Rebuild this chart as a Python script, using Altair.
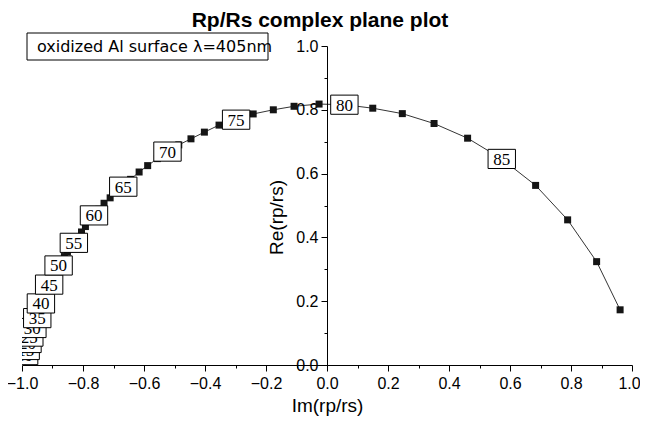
import altair as alt
import pandas as pd

# incidence angle (deg) for each plotted point
angles = list(range(0, 90))
# Im(rp/rs)
im_vals = [
    -1.000, -1.000, -0.999, -0.999, -0.998, -0.997, -0.996, -0.996, -0.995, -0.994,
    -0.993, -0.992, -0.991, -0.990, -0.989, -0.988, -0.987, -0.986, -0.985, -0.983,
    -0.982, -0.980, -0.979, -0.978, -0.977, -0.976, -0.974, -0.972, -0.970, -0.968,
    -0.966, -0.963, -0.960, -0.956, -0.953, -0.950, -0.949, -0.947, -0.944, -0.941,
    -0.938, -0.933, -0.928, -0.922, -0.917, -0.911, -0.905, -0.899, -0.893, -0.887,
    -0.880, -0.871, -0.861, -0.851, -0.841, -0.830, -0.818, -0.805, -0.792, -0.778,
    -0.764, -0.748, -0.731, -0.711, -0.690, -0.668, -0.644, -0.616, -0.588, -0.556,
    -0.523, -0.486, -0.446, -0.402, -0.354, -0.298, -0.242, -0.176, -0.108, -0.026,
    0.057, 0.150, 0.247, 0.351, 0.461, 0.573, 0.684, 0.789, 0.884, 0.961,
]
# Re(rp/rs)
re_vals = [
    0.000, 0.003, 0.006, 0.009, 0.012, 0.016, 0.019, 0.022, 0.025, 0.028,
    0.031, 0.034, 0.038, 0.041, 0.044, 0.047, 0.051, 0.055, 0.059, 0.064,
    0.069, 0.073, 0.077, 0.081, 0.085, 0.089, 0.094, 0.099, 0.104, 0.110,
    0.116, 0.122, 0.128, 0.134, 0.140, 0.147, 0.156, 0.165, 0.174, 0.183,
    0.193, 0.204, 0.216, 0.228, 0.240, 0.252, 0.264, 0.276, 0.288, 0.300,
    0.312, 0.326, 0.340, 0.354, 0.368, 0.383, 0.400, 0.417, 0.434, 0.451,
    0.469, 0.488, 0.507, 0.524, 0.541, 0.559, 0.582, 0.605, 0.625, 0.647,
    0.669, 0.690, 0.709, 0.730, 0.752, 0.769, 0.787, 0.800, 0.811, 0.818,
    0.816, 0.805, 0.788, 0.757, 0.711, 0.646, 0.563, 0.455, 0.324, 0.173,
]
label_angles = [5, 10, 15, 20, 25, 30, 35, 40, 45, 50, 55, 60, 65, 70, 75, 80, 85]
x_ticks = [-1.0, -0.9, -0.8, -0.7, -0.6, -0.5, -0.4, -0.3, -0.2, -0.1, 0.0,
           0.1, 0.2, 0.3, 0.4, 0.5, 0.6, 0.7, 0.8, 0.9, 1.0]
y_ticks = [0.0, 0.1, 0.2, 0.3, 0.4, 0.5, 0.6, 0.7, 0.8, 0.9, 1.0]
title_text = "Rp/Rs complex plane plot"
legend_text = "oxidized Al surface λ=405nm"

df = pd.DataFrame({"angle": angles, "im": im_vals, "re": re_vals})

W, H = 610, 319
SANS = "Liberation Sans"
WIDE = "DejaVu Sans"
SERIF = "Liberation Serif"
major = "abs(round(datum.value*10)) % 2 === 0"

x_enc = alt.X(
    "im:Q",
    scale=alt.Scale(domain=[-1, 1], nice=False, zero=False),
    axis=alt.Axis(
        values=x_ticks, format=".1f",
        labelExpr=f"{major} ? datum.label : ''",
        tickSize={"condition": {"test": major, "value": 6}, "value": 3},
        labelOffset={"condition": {"test": "datum.value > 0.99", "value": -3}, "value": 0},
        grid=False, domainColor="black", tickColor="black", labelColor="black",
        labelFont=SANS, labelFontSize=16, labelFlush=False, labelOverlap=False,
        labelPadding=4,
        title="Im(rp/rs)", titleFont=SANS, titleFontSize=19, titleFontWeight="normal",
        titleColor="black", titlePadding=5,
    ),
)
y_enc = alt.Y(
    "re:Q",
    scale=alt.Scale(domain=[0, 1], nice=False),
    axis=alt.Axis(
        values=y_ticks, format=".1f", orient="left", offset=-W / 2,
        labelExpr=f"{major} ? datum.label : ''",
        tickSize={"condition": {"test": major, "value": 6}, "value": 3},
        grid=False, domainColor="black", tickColor="black", labelColor="black",
        labelFont=SANS, labelFontSize=16, labelOverlap=False, labelPadding=3,
        title="Re(rp/rs)", titleFont=SANS, titleFontSize=19, titleFontWeight="normal",
        titleColor="black", titleX=-41, titleY=171,
    ),
)

base = alt.Chart(df).encode(x=x_enc, y=y_enc)
line = base.mark_line(color="black", strokeWidth=0.8, clip=True)
pts = base.mark_point(shape="square", filled=True, size=49, color="#151515",
                      opacity=1, clip=True)

box_path = "M-1,-0.7L1,-0.7L1,0.7L-1,0.7Z"
layers = [line, pts]
for a in label_angles:
    sub = df[df["angle"] == a]
    c = alt.Chart(sub).encode(x=x_enc, y=y_enc)
    layers.append(c.mark_point(shape=box_path, size=750, fill="white", stroke="black",
                               strokeWidth=1, opacity=1, fillOpacity=1, clip=True))
    layers.append(c.mark_text(font=SERIF, fontSize=17, color="black", align="center",
                              baseline="middle", dy=1, clip=True).encode(text="angle:N"))

leg_df = pd.DataFrame({"t": [legend_text], "title": [title_text]})
leg_box = alt.Chart(leg_df).mark_rect(fill="white", stroke="black", strokeWidth=1).encode(
    x=alt.value(5), x2=alt.value(246), y=alt.value(-13), y2=alt.value(14))
leg_txt = alt.Chart(leg_df).mark_text(font=WIDE, fontSize=16, color="black", align="left",
                                      baseline="middle").encode(
    x=alt.value(15), y=alt.value(1), text="t:N")
title_mark = alt.Chart(leg_df).mark_text(font=SANS, fontSize=21, fontWeight="bold",
                                         color="black", align="center",
                                         baseline="alphabetic").encode(
    x=alt.value(298), y=alt.value(-19), text="title:N")
layers += [leg_box, leg_txt, title_mark]

chart = alt.layer(*layers).properties(
    width=W, height=H,
    autosize="none",
    padding={"left": 14, "top": 38, "right": 8, "bottom": 52},
).configure_view(stroke=None)

chart.save("out.html", embed_options={"renderer": "svg", "actions": False})
